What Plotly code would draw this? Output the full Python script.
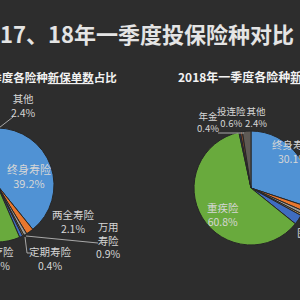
import plotly.graph_objects as go

# ---------------- data ----------------
title_text = "2017、18年一季度投保险种对比（1）"
sub_2017 = "2017年一季度各险种<u>新保单数</u>占比"
sub_2018 = "2018年一季度各险种<u>新保单数</u>占比"

labels = ["终身寿险", "两全寿险", "万用寿险", "定期寿险", "医疗险", "重疾险", "年金", "投连险", "其他"]
values_2017 = [39.2, 2.1, 0.9, 0.4, 0.9, 53.0, 0.5, 0.6, 2.4]
values_2018 = [30.1, 1.5, 0.9, 0.5, 2.8, 60.8, 0.4, 0.6, 2.4]

# ---------------- style ----------------
colors = ["#5092d4", "#e8772e", "#9c9a96", "#c9a064", "#3f6cc0",
          "#69aa3d", "#2c4f86", "#8a4a2c", "#5f5a55"]
BG = "#2d2d2d"
W, H, OFF = 400, 300, 60
FONT = "Noto Sans CJK SC"


def px(x):
    return (x + OFF) / W


def py(y):
    return 1 - y / H


R = 57
left_c = (-3, 185)
right_c = (251, 188)

fig = go.Figure()
for vals, (cx, cy), name in [(values_2017, left_c, "2017"), (values_2018, right_c, "2018")]:
    fig.add_trace(go.Pie(
        labels=labels, values=vals, name=name, sort=False, direction="clockwise",
        rotation=0, textinfo="none", hoverinfo="label+percent",
        marker=dict(colors=colors, line=dict(color="#262626", width=1)),
        domain=dict(x=[px(cx - R), px(cx + R)], y=[py(cy + R), py(cy - R)]),
        showlegend=False,
    ))

# label positions (screen px centers) and font sizes
display = {"万用寿险": "万用<br>寿险"}
pos_2017 = {"终身寿险": (29, 176, 11), "其他": (23, 106, 10.5), "两全寿险": (73, 221, 10.5),
            "万用寿险": (108, 240, 10.5), "定期寿险": (50, 258, 10.5), "医疗险": (-2, 258, 10.5),
            "投连险": (-18, 106, 10.5)}
pos_2018 = {"年金": (208, 122, 9.5), "投连险": (231, 117, 9.5), "其他": (256, 117, 9.5),
            "终身寿险": (293, 151, 10.5), "重疾险": (223, 214, 10.5), "医疗险": (313, 239, 10.5)}

ann = []
for vals, pos in [(values_2017, pos_2017), (values_2018, pos_2018)]:
    for lab, v in zip(labels, vals):
        if lab in pos:
            x, y, fs = pos[lab]
            ann.append(dict(x=px(x), y=py(y), xref="paper", yref="paper",
                            text=f"{display.get(lab, lab)}<br>{v:.1f}%",
                            showarrow=False, xanchor="center", yanchor="middle",
                            font=dict(family=FONT, size=fs, color="#d6d6d6")))

ann.append(dict(x=px(-28), y=py(33), xref="paper", yref="paper", text=f"<b>{title_text}</b>",
                showarrow=False, xanchor="left", yanchor="middle",
                font=dict(family=FONT, size=22, color="#e4e4e4")))
ann.append(dict(x=px(-62), y=py(77), xref="paper", yref="paper", text=f"<b>{sub_2017}</b>",
                showarrow=False, xanchor="left", yanchor="middle",
                font=dict(family=FONT, size=11.5, color="#f2f2f2")))
ann.append(dict(x=px(176), y=py(77), xref="paper", yref="paper", text=f"<b>{sub_2018}</b>",
                showarrow=False, xanchor="left", yanchor="middle",
                font=dict(family=FONT, size=12, color="#f2f2f2")))

segs = [((13, 117), (-5, 131)), ((26, 236), (98, 243)),
        ((25, 237), (27, 253)), ((27, 253), (32, 253)),
        ((218, 133), (244, 133))]
shapes = [dict(type="line", xref="paper", yref="paper", x0=px(a[0]), y0=py(a[1]),
               x1=px(b[0]), y1=py(b[1]), line=dict(color="#a8a8a8", width=1)) for a, b in segs]

fig.update_layout(width=W, height=H, margin=dict(l=0, r=0, t=0, b=0),
                  paper_bgcolor=BG, plot_bgcolor=BG, annotations=ann, shapes=shapes)

post = ("document.body.style.margin='0';document.body.style.overflow='hidden';"
        "document.body.style.background='%s';document.documentElement.style.overflow='hidden';"
        "var d=document.getElementById('{plot_id}');d.style.marginLeft='-%dpx';" % (BG, OFF))
fig.write_html("out.html", post_script=post, config={"displayModeBar": False})
